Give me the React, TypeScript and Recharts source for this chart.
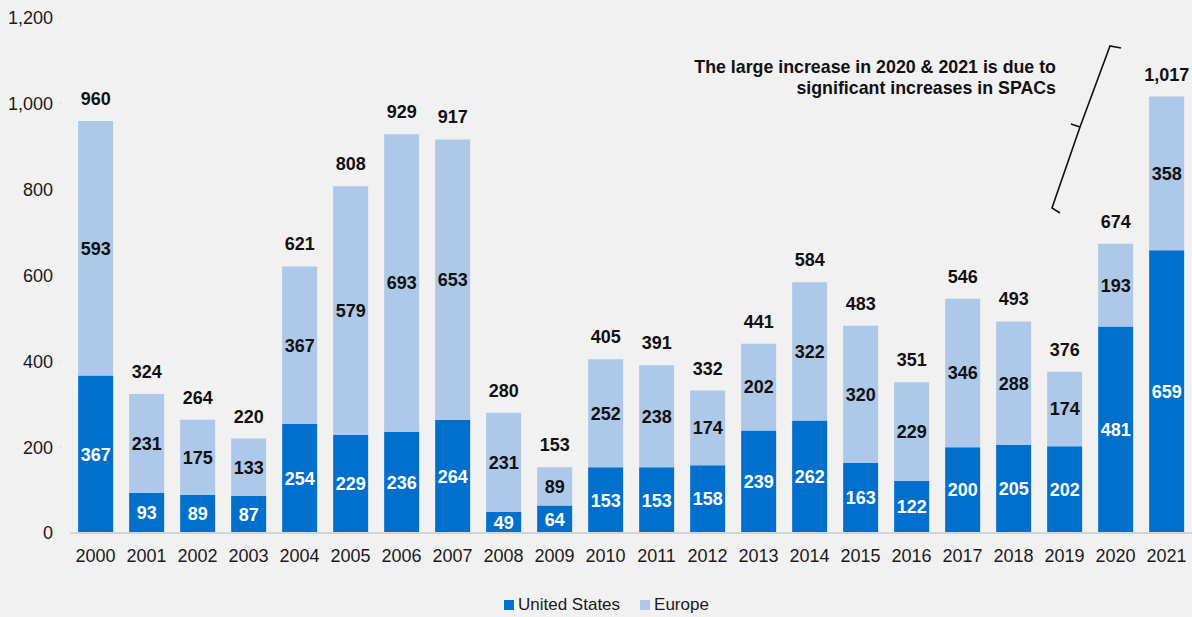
import React from "react";
import { Bar, BarChart, LabelList, XAxis, YAxis } from "recharts";

const years = [
  "2000", "2001", "2002", "2003", "2004", "2005", "2006", "2007", "2008", "2009", "2010",
  "2011", "2012", "2013", "2014", "2015", "2016", "2017", "2018", "2019", "2020", "2021",
];
const unitedStates = [367, 93, 89, 87, 254, 229, 236, 264, 49, 64, 153, 153, 158, 239, 262, 163, 122, 200, 205, 202, 481, 659];
const europe = [593, 231, 175, 133, 367, 579, 693, 653, 231, 89, 252, 238, 174, 202, 322, 320, 229, 346, 288, 174, 193, 358];
const yTicks = [0, 200, 400, 600, 800, 1000, 1200];
const noteLines = ["The large increase in 2020 & 2021 is due to", "significant increases in SPACs"];

const US_COLOR = "#0070cc";
const EU_COLOR = "#adc8e8";
const FONT = "'Liberation Sans', Arial, Helvetica, sans-serif";

const chartData = years.map((year, i) => ({
  year,
  us: unitedStates[i],
  eu: europe[i],
  total: unitedStates[i] + europe[i],
}));

const fmt = (v: number) => v.toLocaleString("en-US");

export default function App() {
  return (
    <div
      style={{
        position: "absolute",
        top: 0,
        left: 0,
        width: 1192,
        height: 617,
        background: "#f1f1f1",
        fontFamily: FONT,
      }}
    >
      <BarChart
        width={1192}
        height={617}
        data={chartData}
        margin={{ top: 18, right: 0, bottom: 54, left: 0 }}
        barCategoryGap="16%"
      >
        <XAxis
          dataKey="year"
          axisLine={{ stroke: "#d4d4d4", strokeWidth: 2 }}
          tickLine={false}
          tickMargin={10}
          height={30}
          interval={0}
          tick={{ fontSize: 18, fill: "#1a1a1a", fontFamily: FONT }}
        />
        <YAxis
          domain={[0, 1200]}
          ticks={yTicks}
          width={70}
          axisLine={false}
          tickLine={false}
          tickMargin={11}
          tickFormatter={fmt}
          tick={{ fontSize: 18, fill: "#1a1a1a", fontFamily: FONT }}
        />
        <Bar dataKey="us" stackId="a" fill={US_COLOR} isAnimationActive={false} name="United States">
          <LabelList
            dataKey="us"
            position="center"
            fill="#ffffff"
            style={{ fontSize: 18, fontWeight: 700, fontFamily: FONT }}
          />
        </Bar>
        <Bar dataKey="eu" stackId="a" fill={EU_COLOR} isAnimationActive={false} name="Europe">
          <LabelList
            dataKey="eu"
            position="center"
            fill="#111111"
            style={{ fontSize: 18, fontWeight: 700, fontFamily: FONT }}
          />
          <LabelList
            dataKey="total"
            position="top"
            offset={16}
            fill="#111111"
            formatter={(v: any) => fmt(Number(v))}
            style={{ fontSize: 18, fontWeight: 700, fontFamily: FONT }}
          />
        </Bar>
      </BarChart>

      {/* legend */}
      <div
        style={{
          position: "absolute",
          left: 504,
          top: 595,
          display: "flex",
          alignItems: "center",
          fontSize: 17,
          color: "#1a1a1a",
          whiteSpace: "nowrap",
        }}
      >
        <span style={{ width: 10, height: 10, background: US_COLOR, display: "inline-block", marginRight: 4 }} />
        <span style={{ marginRight: 20 }}>United States</span>
        <span style={{ width: 10, height: 10, background: EU_COLOR, display: "inline-block", marginRight: 4 }} />
        <span>Europe</span>
      </div>

      {/* SPAC note with brace */}
      <svg
        width={1192}
        height={617}
        style={{ position: "absolute", top: 0, left: 0, pointerEvents: "none" }}
      >
        <text x={1056} y={73} textAnchor="end" fontSize={17.8} fontWeight={700} fill="#111111" fontFamily={FONT}>
          {noteLines[0]}
        </text>
        <text x={1056} y={94} textAnchor="end" fontSize={17.8} fontWeight={700} fill="#111111" fontFamily={FONT}>
          {noteLines[1]}
        </text>
        <path
          d="M1121 48 L1110 46 L1080 127 L1071 124 M1080 127 L1052 208 L1060 213"
          fill="none"
          stroke="#111111"
          strokeWidth={1.6}
        />
      </svg>
    </div>
  );
}
